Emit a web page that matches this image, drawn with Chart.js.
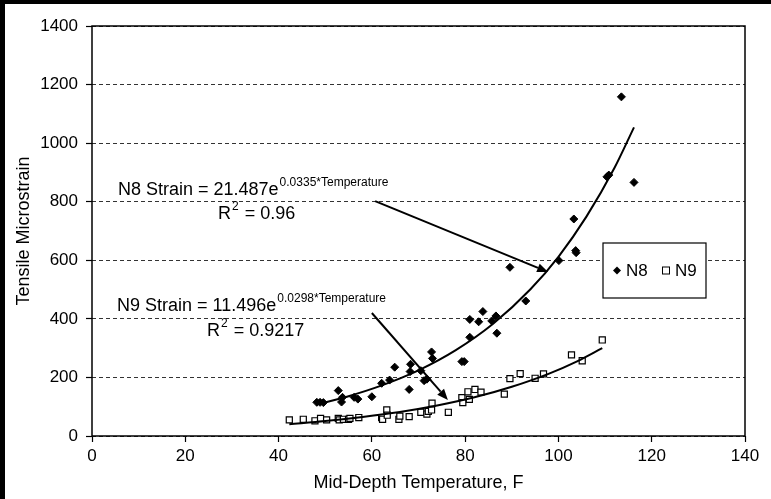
<!DOCTYPE html>
<html>
<head>
<meta charset="utf-8">
<script src="https://cdn.jsdelivr.net/npm/chart.js@4/dist/chart.umd.min.js"></script>
<style>
html, body { margin: 0; background: #000; }
#wrap { position: absolute; left: 5px; top: 4px; width: 766px; height: 495px; background: #fff; }
</style>
</head>
<body>
<div id="wrap"><canvas id="myChart" width="766" height="495"></canvas></div>
<script>
var n8Temp = [48.2, 48.9, 49.6, 52.8, 53.7, 53.5, 56.2, 57, 60, 62.1, 63.8, 64.9, 68, 68.3, 68.2, 70.5, 72.8, 73, 71.2, 71.8, 79.3, 79.8, 81, 81, 82.9, 83.8, 85.7, 86.6, 86.8, 89.6, 93, 100.1, 103.3, 103.7, 103.8, 110.4, 110.8, 113.5, 116.2];
var n8Strain = [115, 115, 114, 155, 132, 116, 132, 126, 134, 180, 191, 235, 159, 245, 220, 223, 287, 265, 189, 194, 254, 254, 398, 337, 390, 425, 393, 410, 351, 576, 461, 599, 741, 633, 626, 885, 891, 1158, 866];
var n9Temp = [42.3, 45.3, 47.8, 49, 50.3, 52.8, 53, 53.9, 55, 55.3, 57.2, 62.1, 62.3, 63.2, 63.3, 65.8, 66, 68, 70.5, 71.8, 72.1, 72.8, 72.9, 76.4, 79.3, 79.5, 80.6, 80.9, 82.1, 83.4, 88.4, 89.6, 91.8, 95, 96.8, 102.8, 105.1, 109.4];
var n9Strain = [55, 57, 52, 60, 55, 60, 55, 57, 57, 60, 63, 63, 57, 89, 71, 57, 68, 66, 81, 75, 84, 89, 112, 81, 131, 114, 151, 125, 159, 150, 143, 196, 213, 197, 212, 277, 257, 328];

// trendline curves as drawn
var n8FitTemp = [48, 55, 62, 70, 78, 86, 94, 100, 106, 112, 116.2];
var n8FitStrain = [107, 136, 172, 224, 293, 383, 501, 612, 749, 915, 1054];
var n9FitTemp = [42.3, 50, 58, 66, 74, 82, 90, 98, 104, 109.4];
var n9FitStrain = [40.5, 51, 65, 82, 104, 132, 168, 213, 255, 300];

var xTicks = [0, 20, 40, 60, 80, 100, 120, 140];
var yTicks = [0, 200, 400, 600, 800, 1000, 1200, 1400];

function pts(xs, ys) {
    return xs.map(function (v, i) { return { x: v, y: ys[i] }; });
}

var FONT = 'Liberation Sans, Arial, sans-serif';
Chart.defaults.font.family = FONT;
Chart.defaults.color = '#000';

// equations, arrows, legend and plot frame
var extras = {
    id: 'extras',
    afterDatasetsDraw: function (chart) {
        var ctx = chart.ctx, a = chart.chartArea, x = chart.scales.x, y = chart.scales.y;
        ctx.save();
        ctx.strokeStyle = '#000';
        ctx.fillStyle = '#000';
        ctx.lineWidth = 1.5;
        ctx.strokeRect(a.left, a.top, a.right - a.left, a.bottom - a.top);

        function arrow(x1, y1, x2, y2) {
            var p1x = x.getPixelForValue(x1), p1y = y.getPixelForValue(y1);
            var p2x = x.getPixelForValue(x2), p2y = y.getPixelForValue(y2);
            var ang = Math.atan2(p2y - p1y, p2x - p1x);
            var len = 11, w = 4.5;
            var bx = p2x - len * Math.cos(ang), by = p2y - len * Math.sin(ang);
            ctx.lineWidth = 2;
            ctx.beginPath();
            ctx.moveTo(p1x, p1y);
            ctx.lineTo(bx, by);
            ctx.stroke();
            ctx.beginPath();
            ctx.moveTo(p2x, p2y);
            ctx.lineTo(bx + w * Math.sin(ang), by - w * Math.cos(ang));
            ctx.lineTo(bx - w * Math.sin(ang), by + w * Math.cos(ang));
            ctx.closePath();
            ctx.fill();
        }
        arrow(60.7, 802, 97.8, 560);
        arrow(60.0, 420, 76.3, 123);

        function sup(px, py, main, exp, size) {
            ctx.textBaseline = 'alphabetic';
            ctx.textAlign = 'left';
            ctx.font = size + 'px ' + FONT;
            ctx.fillText(main, px, py);
            var w = ctx.measureText(main).width;
            ctx.font = '12px ' + FONT;
            ctx.fillText(exp, px + w + 1, py - size * 0.52);
            return w;
        }
        function lineWithR(px, py, main, exp, after, size) {
            var w = sup(px, py, main, exp, size);
            ctx.font = '12px ' + FONT;
            var w2 = ctx.measureText(exp).width;
            ctx.font = size + 'px ' + FONT;
            ctx.fillText(after, px + w + w2 + 2, py);
        }
        var s = 18;
        sup(a.left + 26, a.top + 169, 'N8 Strain = 21.487e', '0.0335*Temperature', s);
        lineWithR(a.left + 126, a.top + 193, 'R', '2', ' = 0.96', s);
        sup(a.left + 25, a.top + 285, 'N9 Strain = 11.496e', '0.0298*Temperature', s);
        lineWithR(a.left + 115, a.top + 310, 'R', '2', ' = 0.9217', s);

        // legend box
        var lx = a.left + 511, ly = a.top + 217, lw = 103, lh = 55;
        ctx.fillStyle = '#fff';
        ctx.fillRect(lx, ly, lw, lh);
        ctx.fillStyle = '#000';
        ctx.lineWidth = 1.2;
        ctx.strokeRect(lx, ly, lw, lh);
        var cy = ly + lh / 2;
        ctx.beginPath();
        ctx.moveTo(lx + 14, cy - 4); ctx.lineTo(lx + 18, cy); ctx.lineTo(lx + 14, cy + 4); ctx.lineTo(lx + 10, cy);
        ctx.closePath();
        ctx.fill();
        ctx.font = '17px ' + FONT;
        ctx.textBaseline = 'middle';
        ctx.fillText('N8', lx + 23, cy + 1);
        ctx.lineWidth = 1;
        ctx.strokeRect(lx + 59.5, cy - 3.5, 7, 7);
        ctx.fillText('N9', lx + 72, cy + 1);
        ctx.restore();
    }
};

var ctx = document.getElementById('myChart').getContext('2d');
var myChart = new Chart(ctx, {
    type: 'scatter',
    data: {
        datasets: [{
            label: 'N8 fit',
            data: pts(n8FitTemp, n8FitStrain),
            showLine: true,
            borderColor: '#000',
            borderWidth: 2,
            pointRadius: 0,
            cubicInterpolationMode: 'monotone',
            order: 0
        }, {
            label: 'N9 fit',
            data: pts(n9FitTemp, n9FitStrain),
            showLine: true,
            borderColor: '#000',
            borderWidth: 2,
            pointRadius: 0,
            cubicInterpolationMode: 'monotone',
            order: 0
        }, {
            label: 'N8',
            data: pts(n8Temp, n8Strain),
            pointStyle: 'rectRot',
            pointRadius: 4,
            backgroundColor: '#000',
            borderColor: '#000',
            borderWidth: 1,
            order: 1
        }, {
            label: 'N9',
            data: pts(n9Temp, n9Strain),
            pointStyle: 'rect',
            pointRadius: 4.3,
            backgroundColor: '#fff',
            borderColor: '#000',
            borderWidth: 1.2,
            order: 1
        }]
    },
    options: {
        responsive: false,
        animation: false,
        layout: { padding: { left: 0, top: 22, right: 26, bottom: 0 } },
        plugins: {
            legend: { display: false },
            tooltip: { enabled: false }
        },
        scales: {
            x: {
                type: 'linear',
                min: 0,
                max: 140,
                afterBuildTicks: function (s) { s.ticks = xTicks.map(function (v) { return { value: v }; }); },
                afterFit: function (s) { s.height = 63; },
                ticks: { font: { size: 17 }, padding: 4, color: '#000', callback: function (v) { return String(v); } },
                grid: { drawOnChartArea: false, tickLength: 6, tickColor: '#000', tickWidth: 1.2 },
                border: { display: false },
                title: { display: true, text: 'Mid-Depth Temperature, F', font: { size: 18 }, padding: { top: 0, bottom: 5 }, color: '#000' }
            },
            y: {
                type: 'linear',
                min: 0,
                max: 1400,
                afterBuildTicks: function (s) { s.ticks = yTicks.map(function (v) { return { value: v }; }); },
                afterFit: function (s) { s.width = 87; },
                ticks: { font: { size: 17 }, padding: 8, color: '#000', callback: function (v) { return String(v); } },
                grid: { color: '#333', lineWidth: 1, tickLength: 6, tickColor: '#000', tickWidth: 1.2 },
                border: { display: false, dash: [4, 3] },
                title: { display: true, text: 'Tensile Microstrain', font: { size: 18 }, padding: { top: 8, bottom: 0 }, color: '#000' }
            }
        }
    },
    plugins: [extras]
});
</script>
</body>
</html>
